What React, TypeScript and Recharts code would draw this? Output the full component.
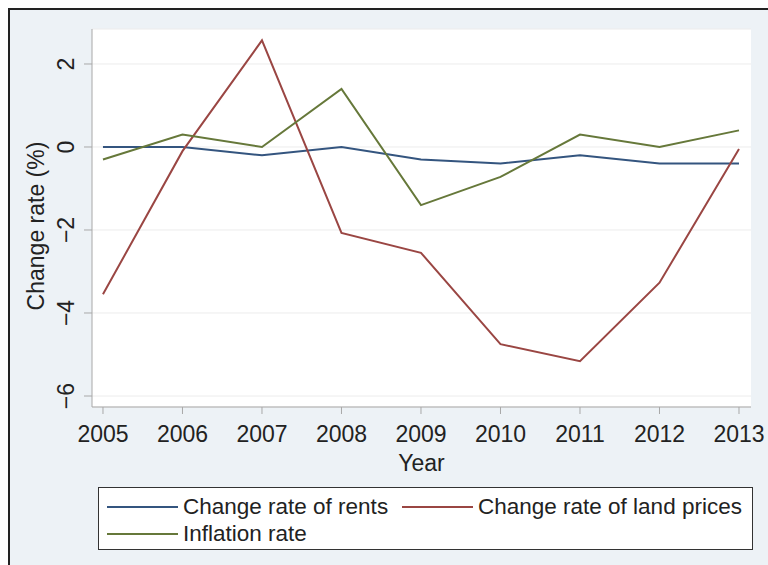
import React from 'react';
import { LineChart, Line, XAxis, YAxis, CartesianGrid, Legend } from 'recharts';

const years = [2005, 2006, 2007, 2008, 2009, 2010, 2011, 2012, 2013];
const rents = [0, 0, -0.2, 0, -0.3, -0.4, -0.2, -0.4, -0.4];
const landPrices = [-3.55, -0.1, 2.57, -2.07, -2.55, -4.75, -5.16, -3.27, -0.05];
const inflation = [-0.3, 0.3, 0, 1.4, -1.4, -0.72, 0.3, 0, 0.4];
const yTicks = [-6, -4, -2, 0, 2];
const xTicks = years;
const seriesNames = ['Change rate of rents', 'Change rate of land prices', 'Inflation rate'];

const COLORS = { rents: '#34557f', land: '#9a4643', infl: '#66783a' };
const FONT = '"Liberation Sans", Arial, sans-serif';

const data = years.map((y, i) => ({
  year: y,
  rents: rents[i],
  land: landPrices[i],
  infl: inflation[i],
}));

const fmt = (v: number) => (v < 0 ? '\u2212' + Math.abs(v) : String(v));

const YTick = (props: any) => {
  const { x, y, payload } = props;
  const bx = x - 8;
  return (
    <text x={bx} y={y} transform={`rotate(-90 ${bx} ${y})`} textAnchor="middle" fontSize={23} fill="#222" fontFamily={FONT}>
      {fmt(payload.value)}
    </text>
  );
};

const XTick = (props: any) => {
  const { x, y, payload } = props;
  return (
    <text x={x} y={y + 26} textAnchor="middle" fontSize={23} fill="#222" fontFamily={FONT}>
      {payload.value}
    </text>
  );
};

const LegendBox = () => {
  const items = [
    { name: seriesNames[0], color: COLORS.rents, left: 8, top: 19 },
    { name: seriesNames[1], color: COLORS.land, left: 303, top: 19 },
    { name: seriesNames[2], color: COLORS.infl, left: 8, top: 46 },
  ];
  return (
    <div style={{ position: 'relative', width: 655, height: 63, boxSizing: 'border-box', border: '1px solid #333', background: '#fff', fontFamily: FONT }}>
      {items.map((it) => (
        <div key={it.name} style={{ position: 'absolute', left: it.left, top: it.top - 14, height: 28, display: 'flex', alignItems: 'center', whiteSpace: 'nowrap' }}>
          <div style={{ width: 71, height: 2, background: it.color }} />
          <span style={{ marginLeft: 5, fontSize: 22.5, color: '#222' }}>{it.name}</span>
        </div>
      ))}
    </div>
  );
};

export default function App() {
  return (
    <div style={{ width: 768, height: 565, background: '#ffffff', boxSizing: 'border-box', paddingLeft: 8, paddingTop: 8, overflow: 'hidden' }}>
      <style>{'html{overflow:hidden} body{margin:0}'}</style>
      <div style={{ width: 758, height: 555, background: '#edf2f6', borderTop: '2px solid #222', borderLeft: '2px solid #222', position: 'relative' }}>
        <LineChart width={758} height={555} data={data} margin={{ top: 19, right: 17, left: 0, bottom: 35 }}>
          <CartesianGrid horizontal={true} vertical={false} stroke="#ececec" fill="#ffffff" />
          <XAxis
            dataKey="year"
            type="number"
            domain={[2004.862, 2013.151]}
            ticks={xTicks}
            allowDataOverflow
            height={60}
            tickSize={7}
            stroke="#a8a8a8"
            tick={<XTick />}
            label={(p: any) => {
              const vb = p.viewBox;
              return (
                <text x={vb.x + vb.width / 2} y={vb.y + 64} textAnchor="middle" fontSize={23} fill="#222" fontFamily={FONT}>
                  Year
                </text>
              );
            }}
          />
          <YAxis
            type="number"
            domain={[-6.265, 2.843]}
            ticks={yTicks}
            allowDataOverflow
            width={82}
            tickSize={8}
            stroke="#a8a8a8"
            tick={<YTick />}
            label={() => {
              const cy = 216;
              return (
                <text x={34} y={cy} transform={`rotate(-90 34 ${cy})`} textAnchor="middle" fontSize={23} fill="#222" fontFamily={FONT}>
                  Change rate (%)
                </text>
              );
            }}
          />
          <Legend
            verticalAlign="bottom"
            content={<LegendBox />}
            wrapperStyle={{ position: 'absolute', left: 88, top: 477, bottom: 'auto', width: 655, height: 63 }}
          />
          <Line name={seriesNames[0]} dataKey="rents" stroke={COLORS.rents} strokeWidth={2} dot={false} isAnimationActive={false} />
          <Line name={seriesNames[1]} dataKey="land" stroke={COLORS.land} strokeWidth={2} dot={false} isAnimationActive={false} />
          <Line name={seriesNames[2]} dataKey="infl" stroke={COLORS.infl} strokeWidth={2} dot={false} isAnimationActive={false} />
        </LineChart>
      </div>
    </div>
  );
}
